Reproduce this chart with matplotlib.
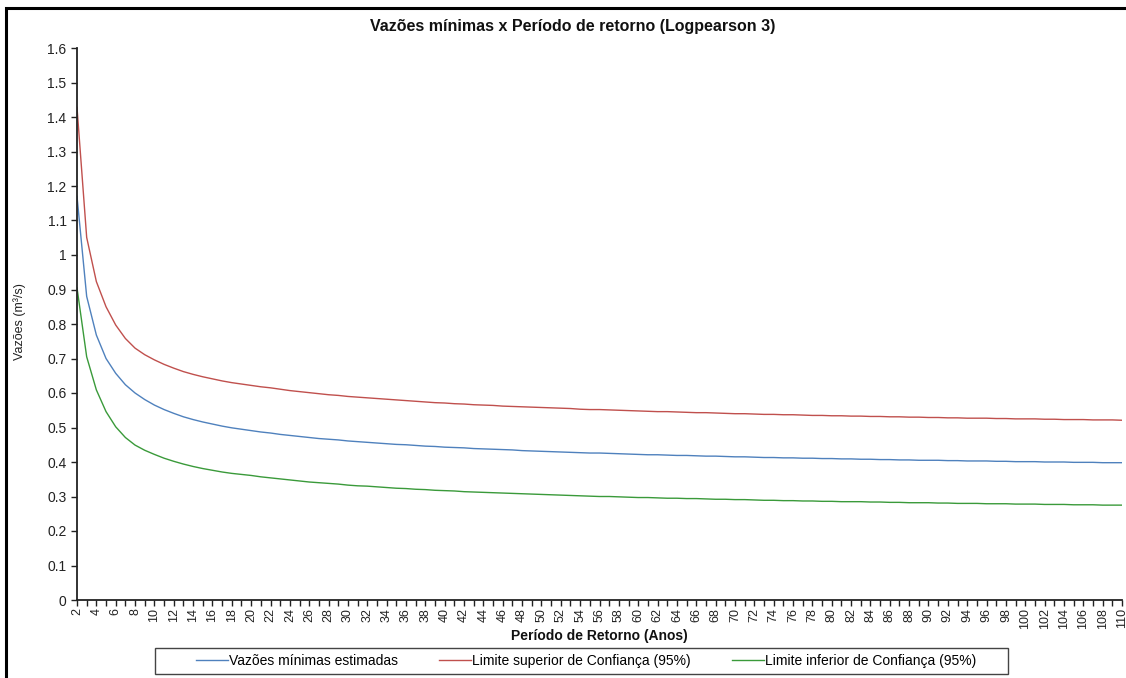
import matplotlib
matplotlib.use("Agg")
import matplotlib.pyplot as plt
from matplotlib.patches import Rectangle

plt.rcParams['font.family'] = ['Liberation Sans', 'DejaVu Sans']

periodos = list(range(2, 111))

vazoes_estimadas = [
    1.170, 0.880, 0.768, 0.700, 0.657, 0.624, 0.600, 0.581, 0.565, 0.552,
    0.541, 0.531, 0.523, 0.516, 0.510, 0.504, 0.499, 0.495, 0.491, 0.487,
    0.484, 0.480, 0.477, 0.474, 0.471, 0.468, 0.466, 0.464, 0.461, 0.459,
    0.457, 0.455, 0.453, 0.451, 0.450, 0.448, 0.446, 0.445, 0.443, 0.442,
    0.441, 0.439, 0.438, 0.437, 0.436, 0.435, 0.433, 0.432, 0.431, 0.430,
    0.429, 0.428, 0.427, 0.426, 0.426, 0.425, 0.424, 0.423, 0.422, 0.421,
    0.421, 0.420, 0.419, 0.419, 0.418, 0.417, 0.417, 0.416, 0.415, 0.415,
    0.414, 0.413, 0.413, 0.412, 0.412, 0.411, 0.411, 0.410, 0.410, 0.409,
    0.409, 0.408, 0.408, 0.407, 0.407, 0.406, 0.406, 0.405, 0.405, 0.405,
    0.404, 0.404, 0.403, 0.403, 0.403, 0.402, 0.402, 0.401, 0.401, 0.401,
    0.400, 0.400, 0.400, 0.399, 0.399, 0.399, 0.398, 0.398, 0.398,
]

limite_superior = [
    1.428, 1.051, 0.923, 0.850, 0.797, 0.758, 0.730, 0.711, 0.696, 0.683,
    0.672, 0.662, 0.654, 0.647, 0.641, 0.635, 0.630, 0.626, 0.622, 0.618,
    0.615, 0.611, 0.607, 0.604, 0.601, 0.598, 0.595, 0.593, 0.590, 0.588,
    0.586, 0.584, 0.582, 0.580, 0.578, 0.576, 0.574, 0.572, 0.571, 0.569,
    0.568, 0.566, 0.565, 0.564, 0.562, 0.561, 0.560, 0.559, 0.558, 0.557,
    0.556, 0.555, 0.553, 0.552, 0.552, 0.551, 0.550, 0.549, 0.548, 0.547,
    0.546, 0.546, 0.545, 0.544, 0.543, 0.543, 0.542, 0.541, 0.540, 0.540,
    0.539, 0.538, 0.538, 0.537, 0.537, 0.536, 0.535, 0.535, 0.534, 0.534,
    0.533, 0.533, 0.532, 0.532, 0.531, 0.531, 0.530, 0.530, 0.529, 0.529,
    0.528, 0.528, 0.527, 0.527, 0.527, 0.526, 0.526, 0.525, 0.525, 0.525,
    0.524, 0.524, 0.523, 0.523, 0.523, 0.522, 0.522, 0.522, 0.521,
]

limite_inferior = [
    0.905, 0.705, 0.609, 0.546, 0.502, 0.471, 0.449, 0.434, 0.422, 0.411,
    0.402, 0.394, 0.387, 0.381, 0.376, 0.371, 0.367, 0.364, 0.361, 0.357,
    0.354, 0.351, 0.348, 0.345, 0.342, 0.340, 0.338, 0.336, 0.333, 0.331,
    0.330, 0.328, 0.326, 0.324, 0.323, 0.321, 0.320, 0.318, 0.317, 0.316,
    0.314, 0.313, 0.312, 0.311, 0.310, 0.309, 0.308, 0.307, 0.306, 0.305,
    0.304, 0.303, 0.302, 0.301, 0.300, 0.300, 0.299, 0.298, 0.297, 0.297,
    0.296, 0.295, 0.295, 0.294, 0.294, 0.293, 0.292, 0.292, 0.291, 0.291,
    0.290, 0.289, 0.289, 0.288, 0.288, 0.287, 0.287, 0.286, 0.286, 0.285,
    0.285, 0.285, 0.284, 0.284, 0.283, 0.283, 0.282, 0.282, 0.282, 0.281,
    0.281, 0.280, 0.280, 0.280, 0.279, 0.279, 0.279, 0.278, 0.278, 0.278,
    0.277, 0.277, 0.277, 0.276, 0.276, 0.276, 0.275, 0.275, 0.275,
]

y_ticks = [i / 10 for i in range(0, 17)]
y_tick_labels = ['0', '0.1', '0.2', '0.3', '0.4', '0.5', '0.6', '0.7', '0.8', '0.9',
                 '1', '1.1', '1.2', '1.3', '1.4', '1.5', '1.6']

titulo = 'Vazões mínimas x Período de retorno (Logpearson 3)'
rotulo_x = 'Período de Retorno (Anos)'
rotulo_y = 'Vazões (m³/s)'
nomes = ['Vazões mínimas estimadas',
         'Limite superior de Confiança (95%)',
         'Limite inferior de Confiança (95%)']
cores = ['#4f81bd', '#c0504d', '#3a9a3a']

W, H = 1126, 678
fig = plt.figure(figsize=(W / 100, H / 100), dpi=100)
fig.patch.set_facecolor('white')

# outer chart border
fig.add_artist(Rectangle((6 / W, -0.05), 1.1, 1 - 8 / H + 0.05,
                         transform=fig.transFigure, fill=False,
                         edgecolor='black', linewidth=2.2))

ax = fig.add_axes([77 / W, 1 - 600 / H, (1122 - 77) / W, (600 - 48) / H])

for serie, nome, cor in zip([vazoes_estimadas, limite_superior, limite_inferior], nomes, cores):
    ax.plot(periodos, serie, color=cor, linewidth=1.0, label=nome)

ax.set_xlim(periodos[0], periodos[-1])
ax.set_ylim(0, 1.6)
ax.set_yticks(y_ticks)
ax.set_yticklabels(y_tick_labels, fontsize=10, color='#222222')
ax.set_xticks(periodos)
ax.set_xticklabels([str(p) if p % 2 == 0 else '' for p in periodos],
                   rotation=90, fontsize=9, color='#222222')
ax.tick_params(axis='both', direction='out', length=4, width=1, color='#222222')
ax.tick_params(axis='x', pad=2)

for s in ['top', 'right']:
    ax.spines[s].set_visible(False)
for s in ['left', 'bottom']:
    ax.spines[s].set_color('#222222')
    ax.spines[s].set_linewidth(1.3)

fig.text(573 / W, 1 - 27 / H, titulo, ha='center', va='center',
         fontsize=11.5, fontweight='bold', color='#111111')
fig.text(599 / W, 1 - 636 / H, rotulo_x, ha='center', va='center',
         fontsize=10, fontweight='bold', color='#111111')
fig.text(20 / W, 1 - 322 / H, rotulo_y, ha='center', va='center',
         rotation=90, fontsize=9, color='#222222')

# legend frame
fig.add_artist(Rectangle((155 / W, 1 - 674 / H), (1008 - 155) / W, 26 / H,
                         transform=fig.transFigure, fill=False,
                         edgecolor='#444444', linewidth=1.0))

leg = fig.legend(loc='center left', bbox_to_anchor=(196 / W, 1 - 661 / H), ncol=3,
                 fontsize=10, frameon=False, handlelength=2.3,
                 handletextpad=0.05, columnspacing=3.0, borderpad=0,
                 borderaxespad=0)

fig.savefig('out.png', dpi=100, facecolor='white')
